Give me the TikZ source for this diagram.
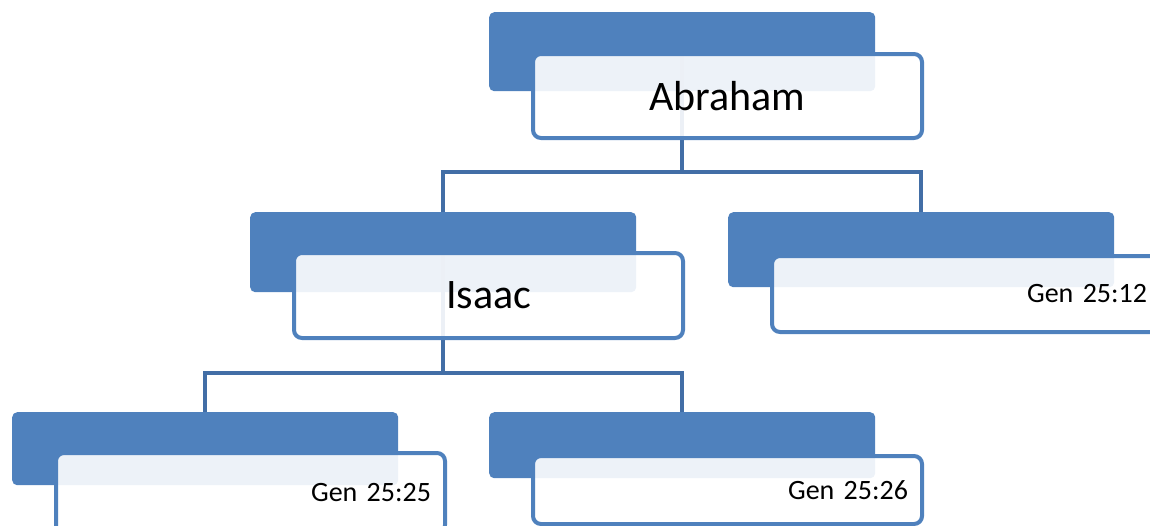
\documentclass[tikz,border=0pt]{standalone}
\usepackage{fontspec}
\setmainfont{Carlito}
\definecolor{boxblue}{RGB}{79,129,189}
\definecolor{linkblue}{RGB}{66,110,166}
\begin{document}
\begin{tikzpicture}[x=1pt,y=1pt,line join=miter,
	tab/.style={fill=boxblue,rounded corners=5pt,minimum width=386pt,inner sep=0pt,anchor=north west},
	namebox/.style={draw=boxblue,line width=4pt,fill=white,fill opacity=0.9,text opacity=1,
		rounded corners=8pt,minimum width=389pt,inner sep=0pt,anchor=north west,
		font=\fontsize{42}{42}\selectfont},
	refbox/.style={namebox,text width=361pt,align=right,font=\fontsize{28}{28}\selectfont},
	link/.style={draw=linkblue,line width=4pt}]
	\useasboundingbox (0,0) rectangle (1150,-525);
	\clip (0,0) rectangle (1150,-525);
	%khung dam
	\node[tab,minimum height=79pt] (abrahamtab) at (489,-12) {};
	\node[tab,minimum height=80pt] (isaactab) at (250,-212) {};
	\node[tab,minimum height=75pt] (ishmaeltab) at (728,-212) {};
	\node[tab,minimum height=73pt] (esautab) at (12,-412) {};
	\node[tab,minimum height=66pt] (jacobtab) at (489,-412) {};
	%duong noi
	\coordinate (abrahambar) at (abrahamtab.center |- 0,-172);
	\coordinate (isaacbar) at (isaactab.center |- 0,-373);
	\draw[link] (abrahamtab.center) -- (abrahambar) -| (isaactab.north)
		(abrahambar) -| (ishmaeltab.north);
	\draw[link] (isaactab.center) -- (isaacbar) -| (esautab.north)
		(isaacbar) -| (jacobtab.north);
	%khung trang
	\node[namebox,minimum height=84pt] (abraham) at ([shift={(42,-40)}]abrahamtab.north west) {Abraham};
	\node[namebox,minimum height=85pt] (isaac) at ([shift={(42,-39)}]isaactab.north west) {Isaac};
	\node[refbox,minimum height=76pt] (ishmael) at ([shift={(42,-42)}]ishmaeltab.north west) {Gen 25:12};
	\node[refbox,minimum height=80pt] (esau) at ([shift={(42,-39)}]esautab.north west) {Gen 25:25};
	\node[refbox,minimum height=68pt] (jacob) at ([shift={(42,-42)}]jacobtab.north west) {Gen 25:26};
\end{tikzpicture}
\end{document}
